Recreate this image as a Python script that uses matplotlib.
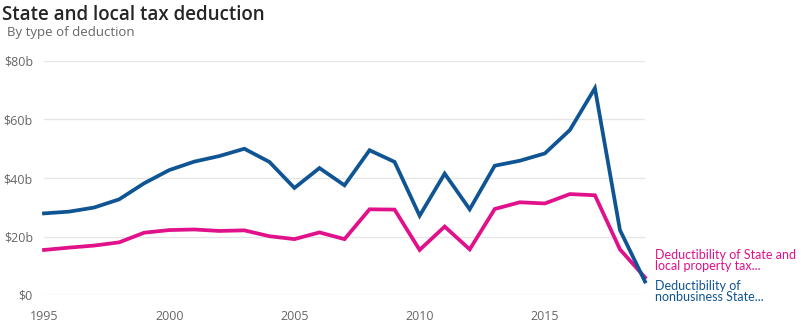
import matplotlib
matplotlib.use("Agg")
import matplotlib.pyplot as plt
from matplotlib.ticker import FuncFormatter

plt.rcParams['font.family'] = ['Open Sans', 'DejaVu Sans']

years = list(range(1995, 2020))
nonbusiness = [27.9, 28.5, 29.9, 32.7, 38.2, 42.7, 45.6, 47.5, 50.0, 45.5,
               36.6, 43.4, 37.5, 49.5, 45.5, 27.1, 41.5, 29.3, 44.2, 45.9,
               48.4, 56.4, 70.7, 22.2, 4.6]
property_tax = [15.4, 16.2, 16.9, 18.0, 21.3, 22.2, 22.4, 21.9, 22.1, 20.1,
                19.1, 21.4, 19.1, 29.3, 29.2, 15.4, 23.4, 15.6, 29.4, 31.7,
                31.3, 34.5, 34.1, 15.6, 6.0]
labels = ["Deductibility of\nnonbusiness State...",
          "Deductibility of State and\nlocal property tax..."]

blue = "#0f5594"
pink = "#e0118a"

fig = plt.figure(figsize=(8.01, 3.31), dpi=100)
W, H = 801, 331
ax = fig.add_axes([44 / W, (H - 295) / H, (645 - 44) / W, (295 - 61) / H])

ax.plot(years, nonbusiness, color=blue, lw=2.7, solid_joinstyle='miter', zorder=3, clip_on=False)
ax.plot(years, property_tax, color=pink, lw=2.7, solid_joinstyle='miter', zorder=2, clip_on=False)

ax.set_xlim(1995, 2019)
ax.set_ylim(0, 80)
ax.set_yticks([0, 20, 40, 60, 80])
ax.set_xticks([1995, 2000, 2005, 2010, 2015])
ax.yaxis.set_major_formatter(FuncFormatter(lambda v, p: "$0" if v == 0 else f"${v:.0f}b"))
ax.grid(axis='y', color='#e6e6e6', lw=1)
ax.set_axisbelow(True)
for s in ax.spines.values():
    s.set_visible(False)
ax.tick_params(length=0, colors='#666666', labelsize=9)
ax.tick_params(axis='y', pad=8)
ax.tick_params(axis='x', pad=11)

# end labels next to the last point of each line
end_font = dict(family=['Lato', 'DejaVu Sans'], fontsize=9.0)
ax.annotate(labels[1], (years[-1], property_tax[-1]), xytext=(10, 17),
            textcoords='offset pixels', color=pink, va='center', ha='left',
            linespacing=0.98, annotation_clip=False, **end_font)
ax.annotate(labels[0], (years[-1], nonbusiness[-1]), xytext=(10, -10),
            textcoords='offset pixels', color=blue, va='center', ha='left',
            linespacing=0.98, annotation_clip=False, **end_font)

fig.text(2 / W, 1 - 5 / H, "State and local tax deduction", fontsize=13.5,
         fontweight='semibold', color='#252525', va='top', ha='left')
fig.text(7 / W, 1 - 26 / H, "By type of deduction", fontsize=9.5,
         color='#666666', va='top', ha='left')

fig.savefig("out.png", dpi=100)
